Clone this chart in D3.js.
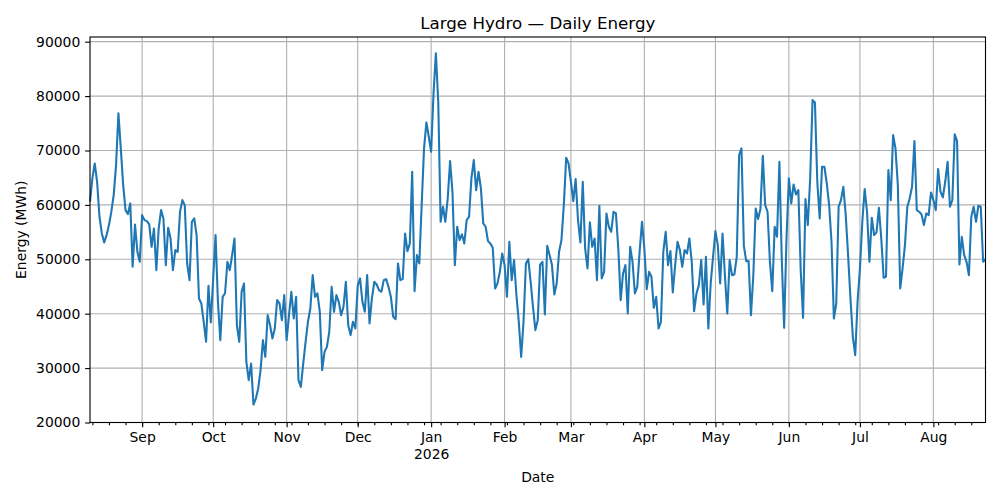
<!DOCTYPE html>
<html>
<head>
<meta charset="utf-8">
<script src="https://cdn.jsdelivr.net/npm/d3@7"></script>
<style>
body { margin: 0; background: #fff; }
svg { font-family: "DejaVu Sans", sans-serif; }
</style>
</head>
<body>
<div id="chart"></div>
<script>
//daily series, first value is 2025-08-10, one value per day
var startDay = "2025-08-10";
var endDay = "2026-08-23";

var energyAug = [60580, 64870, 67620, 64250, 57820, 54750, 53100, 54450, 56290, 58740, 61800, 67320, 76820, 70380, 63640, 59040, 58310,
    60270, 48620, 56410, 51380, 49540];
var energySep = [58120, 57200, 57020, 56410, 52300, 55670, 48010, 55670, 59040, 57510, 48930, 55790, 53830, 48010, 51690, 51380,
    58740, 60880, 59960, 49240, 46170, 56900, 57510, 54450, 42800, 41880, 38510, 34830, 45130, 38390];
var energyOct = [46480, 54450, 42190, 35140, 43100, 43720, 49540, 48010, 50770, 53830, 37900, 34830, 44030, 45560, 31150, 27780,
    30840, 23300, 24410, 26250, 29620, 35140, 32070, 39730, 37900, 35440, 37280, 42490, 41880, 38810, 43410];
var energyNov = [35140, 39730, 44030, 39120, 43100, 27780, 26550, 30840, 34830, 38510, 40960, 47090, 43100, 43720, 40350, 29620,
    32990, 33910, 36670, 44940, 40350, 43410, 42190, 39730, 41270, 45870, 37900, 36060, 38510, 37280];
var energyDec = [45130, 46480, 42190, 40350, 47090, 38200, 42800, 45870, 45370, 44330, 44030, 46170, 46350, 44940, 43100, 39430,
    39000, 49240, 46170, 46350, 54750, 51500, 52910, 66090, 44150, 50770, 49240, 59960, 70380, 75160, 72520];
var energyJan = [69770, 80500, 87850, 78970, 56900, 59660, 56900, 61190, 68050, 62400, 48930, 55980, 53530, 54570, 52910, 57200,
    57820, 64870, 68240, 62720, 66090, 63030, 56590, 55980, 53340, 52910, 52120, 44640, 45560, 47700, 51070];
var energyFeb = [48930, 43100, 53220, 46170, 49850, 43410, 38510, 32070, 38510, 49240, 50030, 45870, 41270, 36980, 38810, 49000,
    49540, 39860, 52480, 50770, 48930, 43540, 45560, 51380, 53530, 59960, 68670, 67630];
var energyMar = [64250, 60700, 64750, 57200, 53100, 64250, 51990, 48320, 56780, 52300, 53830, 46170, 59840, 46480, 47700, 58430,
    55980, 55060, 58740, 58430, 51990, 42490, 47400, 48930, 40040, 52300, 49540, 43720, 44940, 51380, 56900];
var energyApr = [51990, 44520, 47700, 46780, 41080, 43100, 37280, 38510, 51380, 55060, 48930, 51500, 43900, 48930, 53220, 51690,
    48620, 51690, 51070, 53830, 49540, 40470, 43720, 45250, 49850, 41690, 50460, 37280, 45560, 50460];
var energyMay = [55180, 52610, 45560, 54750, 47090, 40040, 49850, 47090, 47210, 50460, 69160, 70380, 52480, 49660, 49660, 39730,
    47090, 59350, 57390, 59230, 69040, 59960, 58740, 49540, 44150, 55980, 54140, 67930, 50030, 37400, 53830];
var energyJun = [64870, 60270, 63760, 61920, 62720, 48010, 39240, 61070, 56290, 65000, 79270, 78840, 64250, 57510, 67010, 67010,
    63950, 59960, 53220, 39120, 41880, 59660, 60880, 63330, 58120, 50770, 42800, 35750, 32380, 42190];
var energyJul = [48320, 56900, 62910, 58740, 49540, 57640, 54450, 54940, 59470, 53830, 46600, 46780, 66400, 60880, 72840, 70380,
    63640, 44640, 48320, 52610, 59660, 61190, 63330, 71730, 59040, 58740, 58250, 56290, 58430, 58120, 62290];
var energyAug2 = [60880, 59040, 66580, 62420, 61370, 64250, 67930, 59660, 60880, 72960, 71730, 49050, 54140, 50770, 49540, 47090,
    57820, 59660, 56900, 59840, 59660, 49540, 50030];

var yTicks = [20000, 30000, 40000, 50000, 60000, 70000, 80000, 90000];

var energy = [].concat(energyAug, energySep, energyOct, energyNov, energyDec, energyJan, energyFeb,
    energyMar, energyApr, energyMay, energyJun, energyJul, energyAug2);

var width = 1000;
var height = 500;
var plotLeft = 90;
var plotRight = 985.5;
var plotTop = 37;
var plotBottom = 422.5;

//sizes in points converted to pixels at 100 dpi
var pt = 100 / 72;

var parseDay = d3.utcParse("%Y-%m-%d");
var firstDay = parseDay(startDay);
var lastDay = parseDay(endDay);

var series = energy.map(function(v, i) {
    return { date: d3.utcDay.offset(firstDay, i), value: v };
});

var xScale = d3.scaleUtc().domain([firstDay, lastDay]).range([plotLeft, plotRight]);
var yScale = d3.scaleLinear().domain([20000, 90860]).range([plotBottom, plotTop]);

var svg = d3.select("#chart").append("svg").attr("width", width).attr("height", height);

var monthTicks = d3.utcMonth.range(d3.utcMonth.ceil(firstDay), lastDay);
var mondayTicks = d3.utcMonday.range(firstDay, d3.utcDay.offset(lastDay, 1));

//grid lines first so the line sits over them
svg.append("g").selectAll("line").data(monthTicks).enter().append("line")
    .attr("x1", function(d) { return xScale(d); })
    .attr("x2", function(d) { return xScale(d); })
    .attr("y1", plotTop).attr("y2", plotBottom)
    .style("stroke", "#b0b0b0").style("stroke-width", 0.8 * pt);

svg.append("g").selectAll("line").data(yTicks).enter().append("line")
    .attr("x1", plotLeft).attr("x2", plotRight)
    .attr("y1", function(d) { return yScale(d); })
    .attr("y2", function(d) { return yScale(d); })
    .style("stroke", "#b0b0b0").style("stroke-width", 0.8 * pt);

var line = d3.line()
    .x(function(d) { return xScale(d.date); })
    .y(function(d) { return yScale(d.value); });

svg.append("path").datum(series)
    .attr("d", line)
    .style("fill", "none")
    .style("stroke", "#1f77b4")
    .style("stroke-width", 1.5 * pt)
    .style("stroke-linejoin", "round")
    .style("stroke-linecap", "butt");

//x axis: months as major ticks, mondays as minor ticks
var monthFormat = d3.utcFormat("%b");
var xAxis = d3.axisBottom(xScale).tickValues(monthTicks).tickSize(3.5 * pt).tickPadding(3.5 * pt).tickFormat(monthFormat);
var xMinor = d3.axisBottom(xScale).tickValues(mondayTicks).tickSize(2 * pt).tickFormat("");
var yAxis = d3.axisLeft(yScale).tickValues(yTicks).tickSize(3.5 * pt).tickPadding(3.5 * pt).tickFormat(d3.format("d"));

svg.append("g").attr("class", "axis")
    .attr("transform", "translate(0," + plotBottom + ")")
    .call(xMinor);

var xg = svg.append("g").attr("class", "axis")
    .attr("transform", "translate(0," + plotBottom + ")")
    .call(xAxis);

//year under january
xg.selectAll(".tick text").each(function(d) {
    if (d.getUTCMonth() == 0) {
        d3.select(this).append("tspan").attr("x", 0).attr("dy", "1.2em").text(d.getUTCFullYear());
    }
});

svg.append("g").attr("class", "axis")
    .attr("transform", "translate(" + plotLeft + ",0)")
    .call(yAxis);

svg.selectAll(".axis .domain").remove();
svg.selectAll(".axis line").style("stroke", "#000").style("stroke-width", 0.8 * pt);
svg.selectAll(".axis text").style("font-size", "13.9px").style("fill", "#000")
    .style("font-family", "DejaVu Sans");

//frame round the plot
svg.append("rect")
    .attr("x", plotLeft).attr("y", plotTop)
    .attr("width", plotRight - plotLeft).attr("height", plotBottom - plotTop)
    .style("fill", "none").style("stroke", "#000").style("stroke-width", 0.8 * pt);

svg.append("text")
    .attr("x", (plotLeft + plotRight) / 2).attr("y", 28.5)
    .style("text-anchor", "middle")
    .style("font-size", "16.7px")
    .text("Large Hydro \u2014 Daily Energy");

svg.append("text")
    .attr("x", (plotLeft + plotRight) / 2).attr("y", 482)
    .style("text-anchor", "middle")
    .style("font-size", "13.9px")
    .text("Date");

svg.append("text")
    .attr("transform", "translate(26," + ((plotTop + plotBottom) / 2) + ") rotate(-90)")
    .style("text-anchor", "middle")
    .style("font-size", "13.9px")
    .text("Energy (MWh)");
</script>
</body>
</html>
